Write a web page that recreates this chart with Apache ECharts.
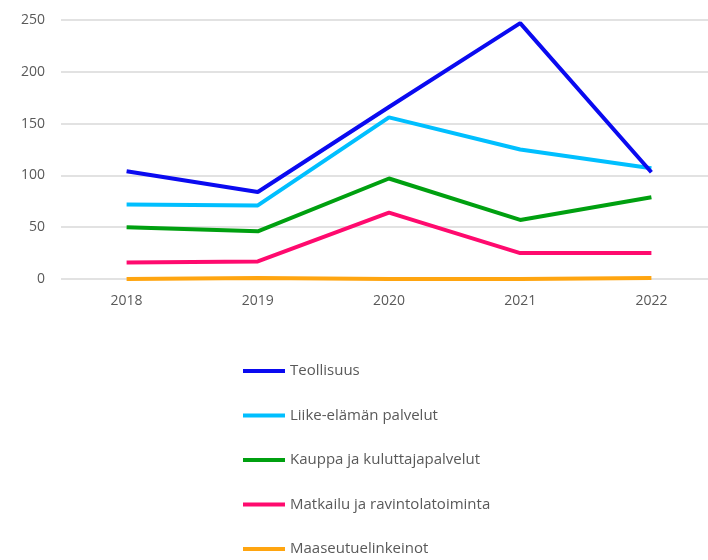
<!DOCTYPE html>
<html>
<head>
<meta charset="utf-8">
<script src="https://cdn.jsdelivr.net/npm/echarts@6/dist/echarts.min.js"></script>
<style>
    html, body { margin: 0; padding: 0; background: #fff; }
    #chart { width: 708px; height: 560px; }
</style>
</head>
<body>
<div id="chart"></div>
<script>
const years = ['2018', '2019', '2020', '2021', '2022'];
const seriesNames = [
    'Teollisuus',
    'Liike-elämän palvelut',
    'Kauppa ja kuluttajapalvelut',
    'Matkailu ja ravintolatoiminta',
    'Maaseutuelinkeinot',
];
const teollisuus = [104, 84, 166, 247, 103];
const liikeElama = [72, 71, 156, 125, 107];
const kauppa = [50, 46, 97, 57, 79];
const matkailu = [16, 17, 64, 25, 25];
const maaseutu = [0, 1, 0, 0, 1];
const yTicks = [0, 50, 100, 150, 200, 250];

const colors = ['#0a0af0', '#00bfff', '#00a010', '#ff0a6e', '#ffa510'];
const values = [teollisuus, liikeElama, kauppa, matkailu, maaseutu];
const font = '"Open Sans", "Noto Sans", sans-serif';

const series = seriesNames.map((name, i) => ({
    name,
    type: 'line',
    data: values[i],
    showSymbol: false,
    symbol: 'none',
    lineStyle: { color: colors[i], width: 4 },
    itemStyle: { color: colors[i] },
    z: 10 - i,
}));

const options = {
    animation: false,
    series,
    legend: {
        orient: 'vertical',
        left: 238,
        top: 357,
        height: 220,
        itemWidth: 42,
        itemHeight: 4,
        itemGap: 26.5,
        icon: 'rect',
        data: seriesNames,
        textStyle: { fontFamily: font, fontSize: 15, color: '#595959', lineHeight: 18 },
    },
    grid: {
        left: 61,
        width: 656,
        top: 20,
        height: 259,
        outerBoundsMode: 'none',
    },
    xAxis: {
        type: 'category',
        data: years,
        axisLine: { show: false },
        axisTick: { show: false },
        axisLabel: { fontFamily: font, fontSize: 14, color: '#595959', margin: 15 },
    },
    yAxis: {
        type: 'value',
        min: yTicks[0],
        max: yTicks[yTicks.length - 1],
        interval: 50,
        axisLine: { show: false },
        axisTick: { show: false },
        axisLabel: { fontFamily: font, fontSize: 14, color: '#595959', margin: 16 },
        splitLine: { lineStyle: { color: '#d9d9d9', width: 1.5 } },
    },
};

const chart = echarts.init(document.getElementById('chart'));
chart.setOption(options);
</script>
</body>
</html>
